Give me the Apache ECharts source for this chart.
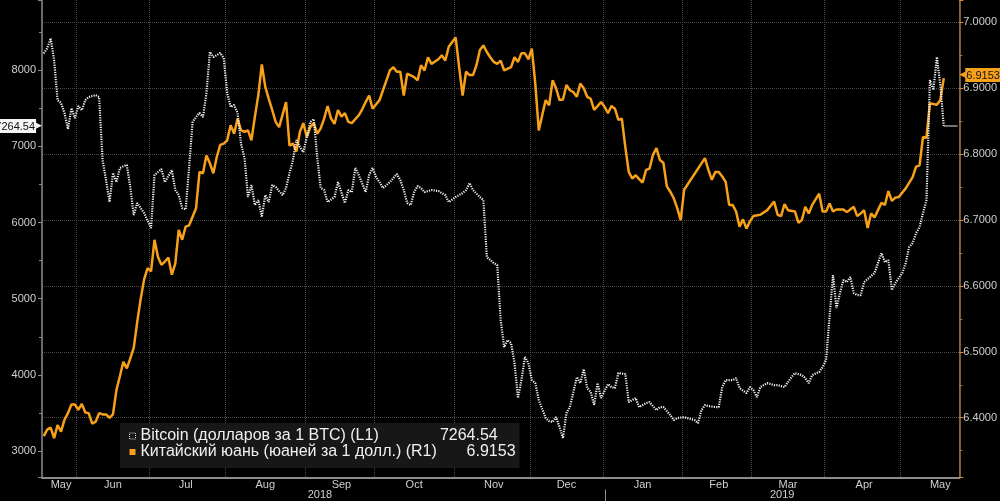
<!DOCTYPE html>
<html><head><meta charset="utf-8">
<script src="https://cdn.jsdelivr.net/npm/echarts@6/dist/echarts.min.js"></script>
<style>html,body{margin:0;padding:0;background:#000}#c{width:1000px;height:501px}</style>
</head><body><div id="c"></div>
<script>
// ---------- data ----------
const startDate = '2018-05-18';
const endDate = '2019-05-23';
const monthNames = ['Jan','Feb','Mar','Apr','May','Jun','Jul','Aug','Sep','Oct','Nov','Dec'];
const seriesNames = ['Bitcoin (долларов за 1 BTC) (L1)', 'Китайский юань (юаней за 1 долл.) (R1)'];
const lastValues = ['7264.54', '6.9153'];

// [weekday index from startDate, value]
const btcPoints = [[0,8220],[1,8285],[2,8416],[3,8131],[4,7606],[5,7567],[6,7436],[7,7226],[8,7500],[9,7370],[10,7528],[11,7475],[12,7606],[13,7646],[15,7672],[16,7646],[17,6819],[18,6557],[19,6268],[20,6649],[21,6530],[22,6714],[23,6740],[24,6754],[25,6465],[26,6098],[27,6255],[29,6124],[31,5927],[32,6622],[34,6701],[35,6530],[37,6688],[38,6426],[39,6360],[40,6189],[41,6170],[42,6727],[43,7318],[44,7383],[45,7436],[46,7383],[47,7698],[48,8236],[49,8170],[50,8197],[51,8223],[52,8157],[53,7698],[54,7515],[55,7541],[56,7436],[57,7030],[58,6845],[59,6334],[60,6491],[61,6229],[62,6294],[63,6071],[64,6360],[65,6268],[66,6491],[67,6465],[69,6360],[70,6452],[71,6649],[72,6819],[73,7082],[74,6990],[75,6924],[76,7121],[77,7318],[78,7357],[79,6859],[80,6452],[81,6426],[82,6268],[84,6334],[85,6530],[87,6255],[88,6426],[89,6399],[90,6714],[91,6622],[93,6399],[94,6622],[95,6714],[96,6596],[97,6530],[98,6452],[100,6530],[101,6583],[102,6636],[103,6557],[104,6426],[105,6255],[106,6229],[107,6399],[108,6478],[109,6452],[110,6399],[112,6426],[114,6413],[116,6360],[117,6268],[119,6334],[121,6386],[122,6426],[123,6517],[124,6426],[126,6334],[127,6294],[128,5547],[130,5468],[131,5442],[132,4720],[133,4366],[134,4458],[135,4418],[136,4156],[137,3697],[138,3933],[139,4235],[140,4156],[141,3933],[142,3893],[143,3670],[145,3434],[146,3395],[147,3382],[148,3447],[149,3316],[150,3172],[151,3500],[152,3579],[153,3776],[154,3972],[155,3893],[156,4077],[157,3828],[158,3776],[159,3605],[160,3893],[161,3697],[162,3790],[163,3880],[164,3840],[165,3828],[166,4025],[168,4012],[169,3644],[171,3697],[172,3579],[174,3631],[175,3644],[177,3539],[178,3579],[179,3579],[181,3474],[182,3408],[183,3434],[185,3447],[186,3434],[188,3408],[189,3368],[190,3539],[191,3605],[192,3592],[194,3579],[195,3579],[196,3841],[197,3933],[199,3933],[200,3959],[201,3828],[203,3762],[204,3841],[205,3802],[206,3710],[207,3841],[209,3893],[211,3867],[212,3867],[214,3841],[216,3972],[217,4025],[219,3998],[220,3959],[221,3893],[222,3998],[224,4038],[225,4104],[226,4196],[227,4760],[228,5311],[229,4878],[230,5074],[231,5245],[232,5219],[233,5284],[234,5074],[235,5048],[236,5048],[237,5219],[239,5297],[240,5337],[241,5468],[242,5599],[243,5481],[244,5507],[245,5114],[246,5206],[248,5337],[249,5468],[250,5678],[251,5730],[252,5861],[253,5940],[254,6124],[255,6294],[256,7869],[257,7738],[258,8170],[259,7800],[260,7264.54]];

const cnyPoints = [[0,6.372],[1,6.382],[2,6.385],[3,6.369],[4,6.389],[5,6.379],[6,6.397],[7,6.407],[8,6.420],[9,6.420],[10,6.412],[11,6.421],[12,6.408],[13,6.407],[14,6.391],[15,6.394],[16,6.407],[17,6.405],[18,6.405],[19,6.400],[20,6.405],[21,6.442],[22,6.463],[23,6.485],[24,6.475],[25,6.490],[26,6.506],[27,6.545],[28,6.580],[29,6.610],[30,6.627],[31,6.622],[32,6.670],[33,6.644],[34,6.632],[35,6.637],[36,6.643],[37,6.617],[38,6.634],[39,6.685],[40,6.670],[41,6.690],[42,6.692],[43,6.705],[44,6.718],[45,6.773],[46,6.771],[47,6.798],[48,6.786],[49,6.771],[50,6.796],[51,6.814],[52,6.816],[53,6.821],[54,6.844],[55,6.831],[56,6.854],[57,6.836],[58,6.834],[59,6.836],[60,6.821],[61,6.857],[62,6.890],[63,6.936],[64,6.902],[65,6.884],[66,6.867],[67,6.849],[68,6.841],[70,6.879],[71,6.813],[72,6.816],[73,6.804],[74,6.834],[75,6.847],[76,6.826],[77,6.841],[78,6.847],[79,6.831],[80,6.839],[81,6.854],[82,6.873],[83,6.854],[84,6.846],[85,6.867],[86,6.857],[87,6.862],[88,6.849],[89,6.847],[91,6.859],[92,6.868],[93,6.879],[94,6.889],[95,6.869],[97,6.882],[98,6.897],[99,6.912],[100,6.927],[101,6.932],[102,6.925],[103,6.925],[104,6.889],[105,6.922],[107,6.917],[108,6.912],[109,6.935],[110,6.927],[111,6.947],[112,6.937],[114,6.944],[115,6.950],[116,6.942],[117,6.963],[118,6.970],[119,6.977],[120,6.932],[121,6.889],[122,6.925],[123,6.920],[124,6.920],[125,6.935],[126,6.958],[127,6.965],[128,6.955],[129,6.947],[130,6.940],[131,6.937],[132,6.942],[133,6.927],[135,6.932],[136,6.947],[137,6.940],[138,6.953],[139,6.953],[140,6.944],[141,6.960],[142,6.907],[143,6.836],[144,6.859],[145,6.882],[146,6.874],[147,6.912],[148,6.900],[149,6.882],[150,6.883],[151,6.905],[152,6.897],[153,6.894],[154,6.887],[155,6.907],[156,6.900],[157,6.887],[158,6.884],[159,6.867],[161,6.879],[162,6.872],[163,6.862],[164,6.873],[165,6.869],[166,6.852],[167,6.854],[168,6.811],[169,6.773],[170,6.763],[171,6.768],[172,6.762],[173,6.757],[174,6.776],[175,6.778],[176,6.799],[177,6.809],[178,6.791],[179,6.787],[180,6.751],[181,6.743],[182,6.733],[183,6.718],[184,6.700],[185,6.746],[191,6.794],[192,6.776],[193,6.761],[194,6.773],[195,6.773],[196,6.766],[197,6.758],[198,6.723],[199,6.723],[200,6.713],[201,6.690],[202,6.701],[203,6.687],[204,6.698],[205,6.706],[207,6.708],[209,6.715],[211,6.728],[212,6.708],[213,6.706],[214,6.724],[215,6.715],[217,6.713],[218,6.696],[219,6.700],[220,6.720],[221,6.710],[222,6.723],[224,6.740],[225,6.713],[226,6.713],[227,6.725],[228,6.713],[229,6.716],[231,6.716],[232,6.712],[233,6.716],[234,6.720],[235,6.706],[236,6.710],[237,6.715],[238,6.688],[239,6.710],[240,6.704],[241,6.715],[242,6.726],[243,6.723],[244,6.744],[245,6.729],[246,6.734],[247,6.735],[249,6.748],[251,6.765],[252,6.781],[253,6.783],[254,6.826],[255,6.825],[256,6.877],[257,6.876],[258,6.875],[259,6.882],[260,6.9153]];

// ---------- categories (weekdays) ----------
function weekdayList(s, e) {
  const out = [];
  const [sy, sm, sd] = s.split('-').map(Number);
  const [ey, em, ed] = e.split('-').map(Number);
  let t = Date.UTC(sy, sm - 1, sd);
  const te = Date.UTC(ey, em - 1, ed);
  while (t <= te) {
    const d = new Date(t);
    const wd = d.getUTCDay();
    if (wd !== 0 && wd !== 6) out.push(d.toISOString().slice(0, 10));
    t += 86400000;
  }
  return out;
}
const categories = weekdayList(startDate, endDate);

const monthStart = new Set(), monthLabel = new Set();
const monthGroups = {}, yearGroups = {};
categories.forEach((c, i) => {
  (monthGroups[c.slice(0, 7)] = monthGroups[c.slice(0, 7)] || []).push(i);
  (yearGroups[c.slice(0, 4)] = yearGroups[c.slice(0, 4)] || []).push(i);
});
Object.values(monthGroups).forEach(g => {
  if (g[0] > 0) monthStart.add(g[0]);
  const days = g.map(i => +categories[i].slice(8, 10));
  let pick;
  if (days[0] > 10 || days[days.length - 1] < 20) pick = g[Math.ceil((g.length - 1) / 2)];
  else {
    let bd = 99;
    g.forEach((i, j) => { const dd = Math.abs(days[j] - 16); if (dd < bd) { bd = dd; pick = i; } });
  }
  monthLabel.add(pick);
});
const yearStart = new Set(), yearLabel = new Set();
Object.values(yearGroups).forEach(g => {
  if (g[0] > 0) yearStart.add(g[0]);
  yearLabel.add(Math.floor((g[0] + g[g.length - 1]) / 2));
});

// ---------- chart ----------
const ORANGE = '#f7a11a';
const AXIS_GRAY = '#8c8c8c';
const LABEL = '#cfcfcf';
const NARROW = "'Liberation Sans Narrow', 'Liberation Sans', Arial, sans-serif";
const LEGEND_FONT = "'Liberation Sans', Arial, sans-serif";
const LEGEND_SIZE = 16;

// legend: values aligned on their decimal point
const measureCtx = document.createElement('canvas').getContext('2d');
measureCtx.font = LEGEND_SIZE + 'px ' + LEGEND_FONT;
const DECIMAL_OFFSET = 335;
const legendRich = {};
seriesNames.forEach((n, k) => {
  const intPart = lastValues[k].split('.')[0];
  const style = {fontSize: LEGEND_SIZE, color: '#f0f0f0', lineHeight: 17, fontFamily: LEGEND_FONT};
  legendRich['n' + k] = Object.assign({width: DECIMAL_OFFSET - measureCtx.measureText(intPart).width}, style);
  legendRich['v' + k] = Object.assign({}, style);
});

const chart = echarts.init(document.getElementById('c'), null, {renderer: 'canvas'});

chart.setOption({
  backgroundColor: '#000',
  animation: false,
  grid: {left: 42, right: 38, top: 0, bottom: 23.5},
  legend: {
    orient: 'vertical', left: 120, top: 423,
    padding: [5, 4, 8, 9], itemGap: 0, itemWidth: 6, itemHeight: 6,
    backgroundColor: '#171717', selectedMode: false,
    lineStyle: {color: 'rgba(0,0,0,0)', width: 0},
    data: [
      {name: seriesNames[0], icon: 'rect', itemStyle: {color: '#171717', borderColor: '#d8d8d8', borderWidth: 1, borderType: 'dotted'}},
      {name: seriesNames[1], icon: 'rect', itemStyle: {color: ORANGE}}
    ],
    formatter: name => {
      const k = seriesNames.indexOf(name);
      return '{n' + k + '|' + name + '}{v' + k + '|' + lastValues[k] + '}';
    },
    textStyle: {color: '#f0f0f0', fontSize: LEGEND_SIZE, fontFamily: LEGEND_FONT, rich: legendRich}
  },
  xAxis: [{
    type: 'category', data: categories, boundaryGap: true,
    axisLine: {lineStyle: {color: AXIS_GRAY, width: 2}},
    axisTick: {interval: i => monthStart.has(i), length: 3, lineStyle: {color: AXIS_GRAY}},
    axisLabel: {
      interval: i => monthLabel.has(i), margin: 2,
      formatter: v => monthNames[+v.slice(5, 7) - 1],
      color: LABEL, fontSize: 11, fontFamily: NARROW
    },
    splitLine: {show: true, interval: i => monthStart.has(i), lineStyle: {color: '#4a4a4a', type: 'dotted', width: 1}}
  }, {
    type: 'category', data: categories, boundaryGap: false, position: 'bottom', offset: 12,
    axisLine: {show: false},
    axisTick: {interval: i => yearStart.has(i), length: 12, lineStyle: {color: AXIS_GRAY}},
    axisLabel: {
      interval: i => yearLabel.has(i), margin: 0,
      formatter: v => v.slice(0, 4),
      color: LABEL, fontSize: 11, fontFamily: NARROW
    },
    splitLine: {show: false}
  }],
  yAxis: [{
    type: 'value', position: 'left', min: 2655, max: 8919, splitNumber: 6,
    axisLine: {show: true, lineStyle: {color: AXIS_GRAY, width: 1.5}},
    axisTick: {show: true, length: 4, lineStyle: {color: AXIS_GRAY}},
    minorTick: {show: true, splitNumber: 2, length: 3, lineStyle: {color: AXIS_GRAY}},
    axisLabel: {color: LABEL, fontSize: 11, fontFamily: NARROW, margin: 6, showMinLabel: false, showMaxLabel: false,
      formatter: v => String(Math.round(v))},
    splitLine: {show: false}
  }, {
    type: 'value', position: 'right', min: 6.3093, max: 7.0339, splitNumber: 7,
    axisLine: {show: true, lineStyle: {color: '#a47b43', width: 1.5}},
    axisTick: {show: true, length: 4, lineStyle: {color: '#d98f2a'}},
    minorTick: {show: true, splitNumber: 2, length: 3, lineStyle: {color: '#a47b43'}},
    axisLabel: {color: LABEL, fontSize: 11, fontFamily: NARROW, margin: 4, showMinLabel: false, showMaxLabel: false,
      formatter: v => v.toFixed(4)},
    splitLine: {show: true, showMinLine: false, showMaxLine: false, lineStyle: {color: '#4a4a4a', type: 'dotted', width: 1}}
  }],
  series: [{
    name: seriesNames[1], type: 'line', xAxisIndex: 0, yAxisIndex: 1, data: cnyPoints,
    symbol: 'none', z: 2,
    lineStyle: {color: ORANGE, width: 2.5}, itemStyle: {color: ORANGE},
    markLine: {
      silent: true, symbol: 'none', animation: false,
      data: [{yAxis: +lastValues[1]}],
      lineStyle: {color: 'rgba(0,0,0,0)', width: 0},
      label: {show: true, position: 'end', distance: 0, formatter: '{a|◀}{t|' + lastValues[1] + '}',
        rich: {
          a: {color: ORANGE, fontSize: 9, fontFamily: 'DejaVu Sans', padding: [0, -1, 0, 0]},
          t: {backgroundColor: ORANGE, color: '#111', padding: [2, 2, 1, 1], fontSize: 11, fontFamily: NARROW}
        }}
    }
  }, {
    name: seriesNames[0], type: 'line', xAxisIndex: 0, yAxisIndex: 0, data: btcPoints,
    symbol: 'none', z: 3,
    lineStyle: {color: '#f2f2f2', width: 2.2, type: [1.2, 1.2]}, itemStyle: {color: '#f2f2f2'},
    markLine: {
      silent: true, symbol: 'none', animation: false,
      data: [
        [{coord: [btcPoints[btcPoints.length - 1][0], +lastValues[0]], lineStyle: {color: '#9a9a9a', width: 1.5, type: 'solid'}, label: {show: false}},
         {coord: [categories.length - 1, +lastValues[0]]}],
        {yAxis: +lastValues[0], lineStyle: {color: 'rgba(0,0,0,0)', width: 0},
         label: {show: true, position: 'start', distance: 0, formatter: '{t|' + lastValues[0] + '}{a|▶}',
           rich: {
             t: {backgroundColor: '#f4f4f4', color: '#111', padding: [2, 1, 1, 2], fontSize: 11, fontFamily: NARROW},
             a: {color: '#f4f4f4', fontSize: 9, fontFamily: 'DejaVu Sans', padding: [0, 0, 0, -1]}
           }}}
      ],
      label: {show: false}
    }
  }]
});
</script>
</body></html>
